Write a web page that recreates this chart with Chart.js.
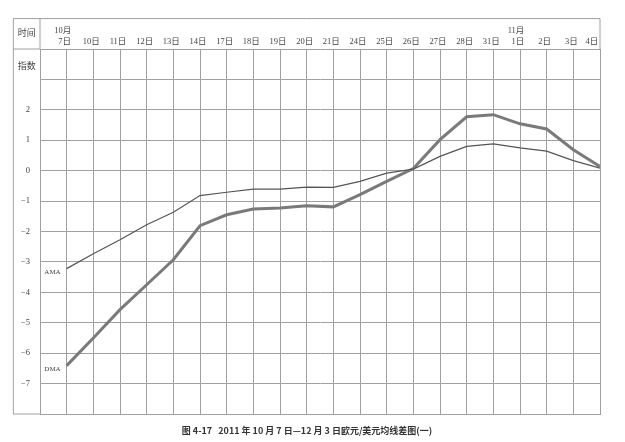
<!DOCTYPE html>
<html>
<head>
<meta charset="utf-8">
<script src="https://cdn.jsdelivr.net/npm/chart.js@4.4.1/dist/chart.umd.min.js"></script>
<style>
  html, body { margin: 0; padding: 0; background: #fff; }
  #wrap { width: 625px; height: 442px; }
</style>
</head>
<body>
<div id="wrap"><canvas id="chart" width="625" height="442"></canvas></div>
<script>
// Data
const dayLabels = ['7日', '10日', '11日', '12日', '13日', '14日', '17日', '18日', '19日', '20日', '21日',
  '24日', '25日', '26日', '27日', '28日', '31日', '1日', '2日', '3日', '4日'];
const monthLabels = ['10月', '', '', '', '', '', '', '', '', '', '',
  '', '', '', '', '', '', '11月', '', '', ''];
const amaValues = [-3.22, -2.73, -2.27, -1.78, -1.37, -0.82, -0.71, -0.61, -0.61, -0.54, -0.55,
  -0.35, -0.08, 0.05, 0.47, 0.80, 0.88, 0.75, 0.64, 0.33, 0.08];
const dmaValues = [-6.41, -5.50, -4.57, -3.75, -2.93, -1.81, -1.45, -1.26, -1.23, -1.15, -1.19,
  -0.79, -0.35, 0.07, 1.02, 1.77, 1.84, 1.54, 1.37, 0.69, 0.14];
const yTickLabels = [2, 1, 0, -1, -2, -3, -4, -5, -6, -7];
const seriesNames = ['AMA', 'DMA'];
const caption = '图 4-17   2011 年 10 月 7 日—12 月 3 日欧元/美元均线差图(一)';

const gridColor = '#a0a0a0';
const textColor = '#444';
const serif = '"Liberation Serif", "Noto Sans CJK SC", serif';

// Table frame, header row, left column and series labels
const tablePlugin = {
  id: 'tableFrame',
  afterDraw(chart) {
    const ctx = chart.ctx;
    const xs = chart.scales.x;
    const ys = chart.scales.y;
    const xL = xs.getPixelForValue(-2);
    const xC = xs.getPixelForValue(-1);
    const xR = xs.getPixelForValue(20);
    const yTop = ys.getPixelForValue(5);
    const yHead = ys.getPixelForValue(4);
    const yBot = ys.getPixelForValue(-8);

    ctx.save();
    ctx.strokeStyle = gridColor;
    ctx.lineWidth = 1;
    ctx.beginPath();
    // outer frame
    ctx.moveTo(xL, yTop); ctx.lineTo(xR, yTop);
    ctx.moveTo(xL, yTop); ctx.lineTo(xL, yBot);
    ctx.moveTo(xR, yTop); ctx.lineTo(xR, yHead);
    ctx.moveTo(xC, yTop); ctx.lineTo(xC, yHead);
    // header separator and bottom line through the left column
    ctx.moveTo(xL, yHead); ctx.lineTo(xC, yHead);
    ctx.moveTo(xL, yBot); ctx.lineTo(xC, yBot);
    ctx.stroke();

    ctx.fillStyle = textColor;
    ctx.textBaseline = 'middle';
    ctx.textAlign = 'center';
    ctx.font = '9px ' + serif;
    const colMid = (xL + xC) / 2;
    ctx.fillText('时间', colMid, (yTop + yHead) / 2);
    ctx.fillText('指数', colMid, ys.getPixelForValue(3.43));

    // date labels
    ctx.font = '8.5px ' + serif;
    dayLabels.forEach((d, i) => {
      const px = Math.min(xs.getPixelForValue(i) - 2, xR - 8);
      ctx.fillText(d, px, ys.getPixelForValue(4.25));
      if (monthLabels[i]) {
        ctx.fillText(monthLabels[i], px - 2, ys.getPixelForValue(4.6));
      }
    });

    // y values
    ctx.textAlign = 'right';
    yTickLabels.forEach(v => {
      ctx.fillText(String(v).replace('-', '−'), xC - 10, ys.getPixelForValue(v));
    });

    // series labels at the start of each line
    ctx.font = '7px ' + serif;
    chart.data.datasets.forEach((ds, k) => {
      const p = chart.getDatasetMeta(k).data[0];
      ctx.fillText(seriesNames[k], p.x - 6, p.y + 3.5);
    });

    // caption
    ctx.font = 'bold 9px "Noto Sans CJK SC", sans-serif';
    ctx.textAlign = 'center';
    ctx.fillStyle = '#333';
    ctx.fillText(caption, 307, 431);
    ctx.restore();
  }
};

new Chart(document.getElementById('chart'), {
  type: 'line',
  data: {
    datasets: [
      {
        label: seriesNames[0],
        data: amaValues.map((v, i) => ({ x: i, y: v })),
        borderColor: '#555',
        borderWidth: 1.2,
        pointRadius: 0,
        tension: 0
      },
      {
        label: seriesNames[1],
        data: dmaValues.map((v, i) => ({ x: i, y: v })),
        borderColor: '#7a7a7a',
        borderWidth: 3,
        pointRadius: 0,
        tension: 0
      }
    ]
  },
  options: {
    responsive: false,
    animation: false,
    layout: { padding: { left: 40, top: 49, right: 25, bottom: 28 } },
    plugins: {
      legend: { display: false },
      tooltip: { enabled: false }
    },
    scales: {
      x: {
        type: 'linear',
        min: -1,
        max: 20,
        ticks: { display: false, stepSize: 1 },
        grid: { color: gridColor, lineWidth: 1, drawTicks: false },
        border: { color: gridColor }
      },
      y: {
        min: -8,
        max: 4,
        ticks: { display: false, stepSize: 1 },
        grid: { color: gridColor, lineWidth: 1, drawTicks: false },
        border: { color: gridColor }
      }
    }
  },
  plugins: [tablePlugin]
});
</script>
</body>
</html>
